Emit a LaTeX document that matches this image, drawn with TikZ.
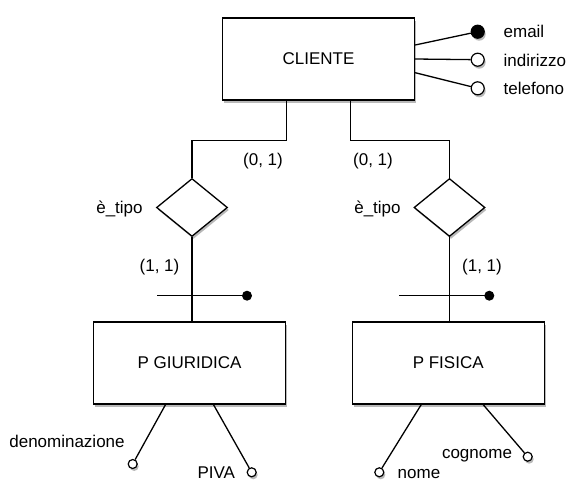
\documentclass[tikz,border=0pt]{standalone}
\usepackage{fontspec}
\setmainfont{Liberation Sans}
\usetikzlibrary{shapes.geometric, shadows}

\tikzset{
    shad/.style={drop shadow={shadow xshift=1.5pt, shadow yshift=-2.5pt, opacity=0.55}},
    entity/.style={draw, fill=white, line width=1.3pt, minimum width=192pt, minimum height=82pt, shad},
    relation/.style={draw, fill=white, diamond, line width=1.3pt, inner sep=0pt, minimum width=71pt, minimum height=58pt, shad},
    attr/.style={draw, fill=white, circle, line width=1.2pt, inner sep=0pt, minimum size=9pt, shad},
    bigattr/.style={attr, minimum size=13pt},
    keydot/.style={circle, fill=black, inner sep=0pt, minimum size=10pt},
    lab/.style={inner sep=0pt, text height=12pt, text depth=0pt},
    every node/.style={font=\fontsize{17}{20}\selectfont},
}

\begin{document}
\begin{tikzpicture}[x=1pt, y=-1pt, line width=1.3pt]
    \useasboundingbox (0,0) rectangle (584,483);

    % entities
    \node[entity] (cliente) at (318.5,59) {CLIENTE};
    \node[entity] (pgiur) at (189.5,363) {P GIURIDICA};
    \node[entity] (pfis) at (448.2,363) {P FISICA};

    % relationships
    \node[relation] (tipo1) at (192,207.5) {};
    \node[relation] (tipo2) at (449.5,207.5) {};
    \node[lab] (tipo1lab) at (119.5,207) {è\_tipo};
    \node[lab] (tipo2lab) at (377.5,207) {è\_tipo};

    \draw ([xshift=-32pt]cliente.south) -- ++(0,40) -| (tipo1.north);
    \draw ([xshift=32pt]cliente.south) -- ++(0,40) -| (tipo2.north);
    \draw (tipo1.south) -- (tipo1.south |- pgiur.north);
    \draw (tipo2.south) -- (tipo2.south |- pfis.north);

    \node[lab] (card1) at (263,159) {(0, 1)};
    \node[lab] (card2) at (373,159) {(0, 1)};
    \node[lab] (card3) at (159.5,265.5) {(1, 1)};
    \node[lab] (card4) at (482,265.5) {(1, 1)};

    % external identifiers
    \coordinate (bar1) at (157,295.7);
    \coordinate (bar2) at (399,295.7);
    \node[keydot] (dot1) at (247,295.7) {};
    \node[keydot] (dot2) at (489.3,295.7) {};
    \draw (bar1) -- (dot1.center);
    \draw (bar2) -- (dot2.center);

    % attributes of CLIENTE
    \node[bigattr, fill=black] (email) at (477.7,31.7) {};
    \node[bigattr] (indirizzo) at (477.7,59.7) {};
    \node[bigattr] (telefono) at (477.7,88.3) {};
    \draw ([yshift=14pt]cliente.east) -- (email);
    \draw (cliente.east) -- (indirizzo);
    \draw ([yshift=-13.7pt]cliente.east) -- (telefono);
    \node[lab, anchor=west] (emaillab) at (503,31) {email};
    \node[lab, anchor=west] (indirizzolab) at (503,60) {indirizzo};
    \node[lab, anchor=west] (telefonolab) at (503,88) {telefono};

    % attributes of P GIURIDICA
    \node[attr] (denom) at (132.7,464) {};
    \node[attr] (piva) at (251.7,472.3) {};
    \draw ([xshift=-24pt]pgiur.south) -- (denom);
    \draw ([xshift=24pt]pgiur.south) -- (piva);
    \node[lab] (denomlab) at (67,441.7) {denominazione};
    \node[lab] (pivalab) at (216.3,472) {PIVA};

    % attributes of P FISICA
    \node[attr] (nome) at (379.3,472.3) {};
    \node[attr] (cognome) at (527.7,456.7) {};
    \draw ([xshift=-27pt]pfis.south) -- (nome);
    \draw ([xshift=35pt]pfis.south) -- (cognome);
    \node[lab] (nomelab) at (419,472.3) {nome};
    \node[lab] (cognomelab) at (477,452.7) {cognome};
\end{tikzpicture}
\end{document}
